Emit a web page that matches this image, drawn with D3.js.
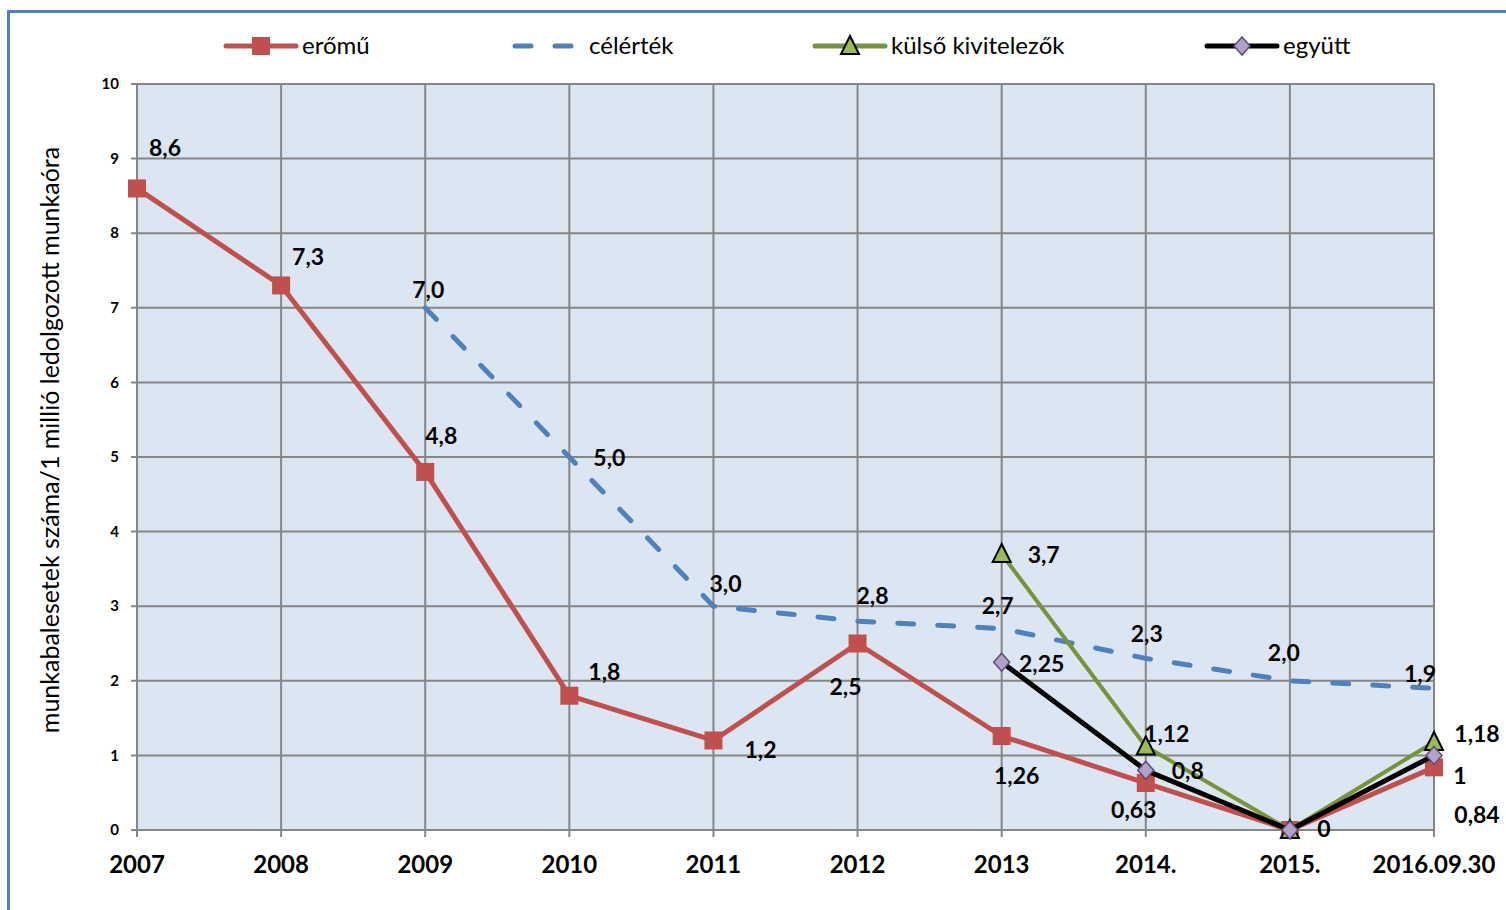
<!DOCTYPE html>
<meta charset="utf-8">
<script src="https://d3js.org/d3.v7.min.js"></script>
<style>
  body { margin: 0; background: #fff; }
  text { font-family: Lato, "Open Sans", sans-serif; }
</style>
<div id="chart"></div>
<script>
// Categories (x axis)
var years = ["2007", "2008", "2009", "2010", "2011", "2012", "2013", "2014.", "2015.", "2016.09.30"];

// Series values (null = no point)
var eromu    = [8.6, 7.3, 4.8, 1.8, 1.2, 2.5, 1.26, 0.63, 0, 0.84];
var celertek = [null, null, 7.0, 5.0, 3.0, 2.8, 2.7, 2.3, 2.0, 1.9];
var kulso    = [null, null, null, null, null, null, 3.7, 1.12, 0, 1.18];
var egyutt   = [null, null, null, null, null, null, 2.25, 0.8, 0, 1];

// Data label texts as printed on the chart
var eromuLabels    = ["8,6", "7,3", "4,8", "1,8", "1,2", "2,5", "1,26", "0,63", "0", "0,84"];
var celertekLabels = [null, null, "7,0", "5,0", "3,0", "2,8", "2,7", "2,3", "2,0", "1,9"];
var kulsoLabels    = [null, null, null, null, null, null, "3,7", "1,12", null, "1,18"];
var egyuttLabels   = [null, null, null, null, null, null, "2,25", "0,8", null, "1"];

var yTicks = [0, 1, 2, 3, 4, 5, 6, 7, 8, 9, 10];

// Label offsets from the point (centre of text), by hand
var eromuOff    = [[28,-40],[27,-28],[16,-36],[35,-24],[47,9],[-12,43],[15,40],[-12,27],[34,-1],[43,48]];
var celertekOff = [null,null,[3,-18],[40,1],[12,-22],[15,-25],[-4,-23],[1,-24],[-6,-28],[-14,-14]];
var kulsoOff    = [null,null,null,null,null,null,[42,1],[21,-12],null,[43,-8]];
var egyuttOff   = [null,null,null,null,null,null,[40,2],[42,1],null,[26,21]];

var W = 1506, H = 910;
var plotLeft = 137, plotRight = 1434, plotTop = 84, plotBottom = 830;

var svg = d3.select("#chart").append("svg")
    .attr("width", W)
    .attr("height", H);

// outer chart border (runs off the right/bottom edge)
svg.append("rect")
    .attr("x", 8.5).attr("y", 11.5)
    .attr("width", 1600).attr("height", 1000)
    .attr("fill", "none")
    .attr("stroke", "#4F81BD")
    .attr("stroke-width", 3);

var x = d3.scalePoint().domain(years).range([plotLeft, plotRight]);
var y = d3.scaleLinear().domain([0, 10]).range([plotBottom, plotTop]);

// plot background
svg.append("rect")
    .attr("x", plotLeft).attr("y", plotTop)
    .attr("width", plotRight - plotLeft).attr("height", plotBottom - plotTop)
    .attr("fill", "#DCE6F2");

var grid = "#868686";

// horizontal grid lines + y ticks
svg.append("g").selectAll("line")
    .data(yTicks)
    .join("line")
    .attr("x1", plotLeft - 6).attr("x2", plotRight)
    .attr("y1", function(d) { return y(d); })
    .attr("y2", function(d) { return y(d); })
    .attr("stroke", grid)
    .attr("stroke-width", 2);

// vertical grid lines + x ticks
svg.append("g").selectAll("line")
    .data(years)
    .join("line")
    .attr("x1", function(d) { return x(d); })
    .attr("x2", function(d) { return x(d); })
    .attr("y1", plotTop).attr("y2", plotBottom + 7)
    .attr("stroke", grid)
    .attr("stroke-width", 2);

// y tick labels
svg.append("g").selectAll("text")
    .data(yTicks)
    .join("text")
    .attr("x", plotLeft - 18)
    .attr("y", function(d) { return y(d); })
    .attr("dy", "0.35em")
    .attr("text-anchor", "end")
    .attr("font-size", 15)
    .attr("font-weight", "bold")
    .text(function(d) { return d; });

// x tick labels
svg.append("g").selectAll("text")
    .data(years)
    .join("text")
    .attr("x", function(d) { return x(d); })
    .attr("y", 873)
    .attr("text-anchor", "middle")
    .attr("font-size", 24)
    .attr("font-weight", "bold")
    .text(function(d) { return d; });

// y axis title
svg.append("text")
    .attr("transform", "translate(59,440) rotate(-90)")
    .attr("text-anchor", "middle")
    .attr("font-size", 25)
    .text("munkabalesetek száma/1 millió ledolgozott munkaóra");

function points(values) {
    return values.map(function(v, i) { return { cat: years[i], v: v, i: i }; })
        .filter(function(d) { return d.v !== null; });
}

var line = d3.line()
    .x(function(d) { return x(d.cat); })
    .y(function(d) { return y(d.v); });

var series = [
    { name: "erőmű", values: eromu, labels: eromuLabels, off: eromuOff,
      color: "#C0504D", width: 5, dash: null, marker: "square" },
    { name: "célérték", values: celertek, labels: celertekLabels, off: celertekOff,
      color: "#4F81BD", width: 5, dash: "16,24", marker: null },
    { name: "külső kivitelezők", values: kulso, labels: kulsoLabels, off: kulsoOff,
      color: "#77933C", width: 4, dash: null, marker: "triangle" },
    { name: "együtt", values: egyutt, labels: egyuttLabels, off: egyuttOff,
      color: "#000000", width: 5, dash: null, marker: "diamond" }
];

function drawMarker(g, type, cx, cy) {
    if (type === "square") {
        g.append("rect")
            .attr("x", cx - 9).attr("y", cy - 9)
            .attr("width", 18).attr("height", 18)
            .attr("fill", "#C0504D");
    } else if (type === "triangle") {
        g.append("path")
            .attr("d", "M" + cx + "," + (cy - 10) + "L" + (cx + 9) + "," + (cy + 8) + "L" + (cx - 9) + "," + (cy + 8) + "Z")
            .attr("fill", "#9BBB59")
            .attr("stroke", "#000")
            .attr("stroke-width", 2);
    } else if (type === "diamond") {
        g.append("path")
            .attr("d", "M" + cx + "," + (cy - 9) + "L" + (cx + 8) + "," + cy + "L" + cx + "," + (cy + 9) + "L" + (cx - 8) + "," + cy + "Z")
            .attr("fill", "#B3A2C7")
            .attr("stroke", "#604A7B")
            .attr("stroke-width", 1.5);
    }
}

var lines = svg.append("g");
series.forEach(function(s) {
    var g = lines.append("g");
    var pts = points(s.values);
    g.append("path")
        .datum(pts)
        .attr("d", line)
        .attr("fill", "none")
        .attr("stroke", s.color)
        .attr("stroke-width", s.width)
        .attr("stroke-linejoin", "round")
        .attr("stroke-linecap", s.dash ? "round" : "butt")
        .attr("stroke-dasharray", s.dash);
    if (s.marker) {
        pts.forEach(function(d) { drawMarker(g, s.marker, x(d.cat), y(d.v)); });
    }
});

// data labels on top
var labels = svg.append("g");
series.forEach(function(s) {
    points(s.values).forEach(function(d) {
        if (!s.labels[d.i]) return;
        var o = s.off[d.i];
        labels.append("text")
            .attr("x", x(d.cat) + o[0])
            .attr("y", y(d.v) + o[1])
            .attr("dy", "0.35em")
            .attr("text-anchor", "middle")
            .attr("font-size", 23)
            .attr("font-weight", "bold")
            .text(s.labels[d.i]);
    });
});

// legend
var legendX = [226, 513, 815, 1207];
var legend = svg.append("g");
series.forEach(function(s, i) {
    var lx = legendX[i], ly = 46;
    var g = legend.append("g");
    if (s.dash) {
        g.append("line")
            .attr("x1", lx + 2).attr("x2", lx + 60)
            .attr("y1", ly).attr("y2", ly)
            .attr("stroke", s.color).attr("stroke-width", 5)
            .attr("stroke-linecap", "round")
            .attr("stroke-dasharray", "16,24");
    } else {
        g.append("line")
            .attr("x1", lx).attr("x2", lx + 70)
            .attr("y1", ly).attr("y2", ly)
            .attr("stroke", s.color).attr("stroke-width", 5)
            .attr("stroke-linecap", "round");
        drawMarker(g, s.marker, lx + 35, ly);
    }
    g.append("text")
        .attr("x", s.dash ? lx + 76 : lx + 76)
        .attr("y", ly)
        .attr("dy", "0.35em")
        .attr("font-size", 24)
        .text(s.name);
});
</script>
